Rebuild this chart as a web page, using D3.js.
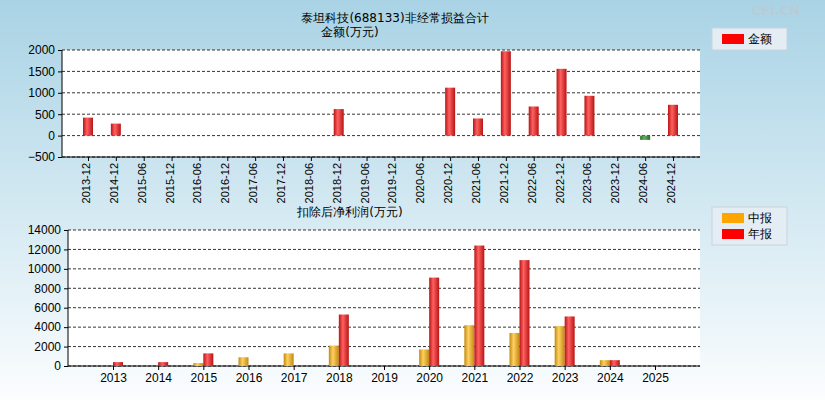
<!DOCTYPE html>
<html><head><meta charset="utf-8">
<script src="https://cdn.jsdelivr.net/npm/d3@7"></script>
<style>body{margin:0}svg{font-family:"DejaVu Sans",sans-serif}</style>
</head><body><svg id="c" width="825" height="400"></svg>
<script>
const halfYears = ["2013-12","2014-12","2015-06","2015-12","2016-06","2016-12","2017-06","2017-12","2018-06","2018-12","2019-06","2019-12","2020-06","2020-12","2021-06","2021-12","2022-06","2022-12","2023-06","2023-12","2024-06","2024-12"];
const nonRecurring = [420,280,null,null,null,null,null,null,null,620,null,null,null,1120,400,1970,680,1560,930,null,-100,720];
const years = ["2013","2014","2015","2016","2017","2018","2019","2020","2021","2022","2023","2024","2025"];
const interim = [null,null,300,900,1300,2100,null,1700,4200,3400,4100,600,null];
const annual = [400,400,1300,null,null,5300,null,9100,12400,10900,5100,600,null];
const topTicks = [-500,0,500,1000,1500,2000];
const botTicks = [0,2000,4000,6000,8000,10000,12000,14000];

const svg = d3.select("#c");
const defs = svg.append("defs");
const bg = defs.append("linearGradient").attr("id","bg").attr("x1",0).attr("y1",0).attr("x2",0).attr("y2",1);
bg.append("stop").attr("offset","0%").attr("stop-color","#a9d3e5");
bg.append("stop").attr("offset","100%").attr("stop-color","#fbfdfe");
function barGrad(id, c1, c2){
  const g = defs.append("linearGradient").attr("id",id);
  g.append("stop").attr("offset","0%").attr("stop-color",c2);
  g.append("stop").attr("offset","40%").attr("stop-color",c1);
  g.append("stop").attr("offset","100%").attr("stop-color",c2);
}
barGrad("red","#ff6060","#b81515");
barGrad("green","#60b060","#2a6e2a");
barGrad("orange","#ffd060","#c08a10");
svg.append("rect").attr("width",825).attr("height",400).attr("fill","url(#bg)");
svg.append("text").attr("x",800).attr("y",15).attr("text-anchor","end").attr("font-size",13)
  .attr("font-weight","bold").attr("fill","#b8ccd8").text("CFi.CN");

const fmt = d3.format("d");
// top chart
const xa = d3.scalePoint().domain(halfYears).range([88,673]);
const y1 = d3.scaleLinear().domain([-500,2000]).range([157,50]);
const t = svg.append("g");
t.append("text").attr("x",395).attr("y",22).attr("text-anchor","middle").attr("font-size",12).text("泰坦科技(688133)非经常损益合计");
t.append("text").attr("x",350).attr("y",36).attr("text-anchor","middle").attr("font-size",12).text("金额(万元)");
t.append("rect").attr("x",62).attr("y",50).attr("width",638).attr("height",107).attr("fill","white");
topTicks.forEach(v=>{
  t.append("line").attr("x1",62).attr("x2",700).attr("y1",y1(v)).attr("y2",y1(v)).attr("stroke","#000").attr("stroke-dasharray","3,2").attr("stroke-width",0.8);
});
t.append("g").attr("transform","translate(62,0)").call(d3.axisLeft(y1).tickValues(topTicks).tickFormat(fmt).tickSize(4)).call(g=>g.select(".domain").remove()).selectAll("text").attr("font-size",12).attr("fill","#000");
t.append("g").attr("transform","translate(0,157)").call(d3.axisBottom(xa).tickSize(4).tickSizeOuter(0)).call(g=>g.select(".domain").attr("d","M62,0H700"))
  .selectAll("text").attr("font-size",11).attr("fill","#000").attr("transform","rotate(-90)").attr("text-anchor","end").attr("dx","-6").attr("dy","-0.5em");
t.append("line").attr("x1",62).attr("x2",62).attr("y1",50).attr("y2",157).attr("stroke","#000");
t.selectAll(".b").data(halfYears.map((d,i)=>[d,nonRecurring[i]]).filter(d=>d[1]!=null)).enter().append("rect")
  .attr("x",d=>xa(d[0])-5).attr("width",10)
  .attr("y",d=>y1(Math.max(0,d[1]))).attr("height",d=>Math.abs(y1(d[1])-y1(0)))
  .attr("fill",d=>d[1]<0?"url(#green)":"url(#red)");

// bottom chart
const xb = d3.scalePoint().domain(years).range([113,655]);
const y2 = d3.scaleLinear().domain([0,14000]).range([366,230]);
const b = svg.append("g");
b.append("text").attr("x",350).attr("y",216).attr("text-anchor","middle").attr("font-size",12).text("扣除后净利润(万元)");
b.append("rect").attr("x",68).attr("y",230).attr("width",632).attr("height",136).attr("fill","white");
botTicks.forEach(v=>{
  b.append("line").attr("x1",68).attr("x2",700).attr("y1",y2(v)).attr("y2",y2(v)).attr("stroke","#000").attr("stroke-dasharray","3,2").attr("stroke-width",0.8);
});
b.append("g").attr("transform","translate(68,0)").call(d3.axisLeft(y2).tickValues(botTicks).tickFormat(fmt).tickSize(4)).call(g=>g.select(".domain").remove()).selectAll("text").attr("font-size",12).attr("fill","#000");
b.append("g").attr("transform","translate(0,366)").call(d3.axisBottom(xb).tickSize(4).tickSizeOuter(0)).call(g=>g.select(".domain").attr("d","M68,0H700"))
  .selectAll("text").attr("font-size",12).attr("fill","#000");
b.append("line").attr("x1",68).attr("x2",68).attr("y1",230).attr("y2",366).attr("stroke","#000");
function bars(vals, off, fill){
  b.selectAll(null).data(years.map((d,i)=>[d,vals[i]]).filter(d=>d[1]!=null)).enter().append("rect")
    .attr("x",d=>xb(d[0])+off).attr("width",10)
    .attr("y",d=>y2(d[1])).attr("height",d=>y2(0)-y2(d[1])).attr("fill",fill);
}
bars(interim,-10,"url(#orange)");
bars(annual,0,"url(#red)");

// legends
function legend(y, items){
  svg.append("rect").attr("x",712).attr("y",y).attr("width",75).attr("height",items.length*16+6).attr("fill","#e4ecf4").attr("stroke","#c8d4e0");
  items.forEach((it,i)=>{
    svg.append("rect").attr("x",722).attr("y",y+6+i*16).attr("width",22).attr("height",10).attr("fill",it[1]);
    svg.append("text").attr("x",748).attr("y",y+15+i*16).attr("font-size",12).text(it[0]);
  });
}
legend(28,[["金额","#ff0000"]]);
legend(207,[["中报","#ffa500"],["年报","#ff0000"]]);
</script></body></html>
